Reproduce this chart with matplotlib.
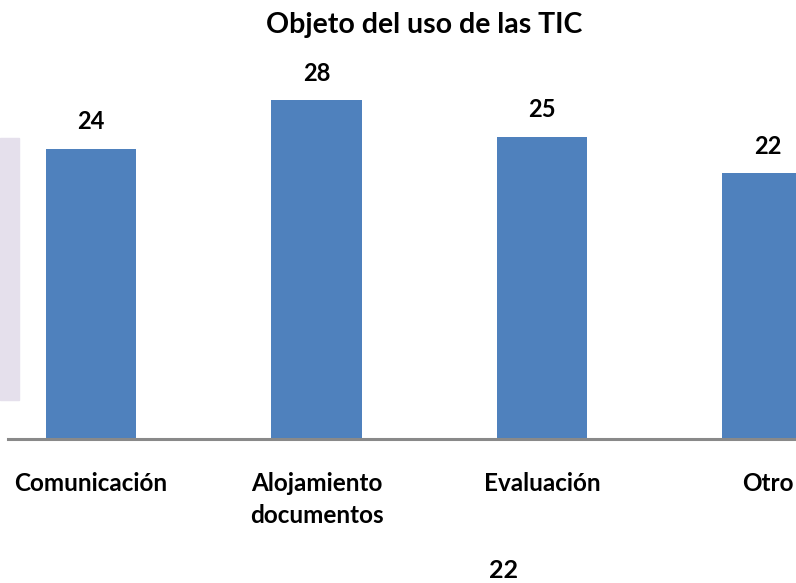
import matplotlib.pyplot as plt
from matplotlib.patches import Rectangle

# datos
categorias = ['Comunicación', 'Alojamiento\ndocumentos', 'Evaluación', 'Otro']
valores = [24, 28, 25, 22]
titulo = 'Objeto del uso de las TIC'
total_extra = '22'

plt.rcParams['font.family'] = ['Lato', 'DejaVu Sans']

fig = plt.figure(figsize=(7.96, 5.83), dpi=100)
ax = fig.add_axes([8 / 796, 1 - 439 / 583, 1 - 8 / 796, (439 - 76) / 583])

pos = list(range(len(valores)))
ax.bar(pos, valores, width=0.4, color='#4F81BD', zorder=2)

for x, v in zip(pos, valores):
    ax.annotate(str(v), (x, v), xytext=(0, 11), textcoords='offset points',
                ha='center', va='bottom', fontsize=17, fontweight='bold')

ax.set_xlim(-0.368, 3.126)
ax.set_ylim(0, 30)
ax.set_yticks([])
ax.set_xticks(pos)
ax.set_xticklabels(categorias, fontsize=17.5, fontweight='bold', linespacing=1.45)
ax.tick_params(axis='x', length=0, pad=24)
for t in ax.get_xticklabels():
    t.set_va('top')

for s in ['top', 'right', 'left']:
    ax.spines[s].set_visible(False)
ax.spines['bottom'].set_color('#898989')
ax.spines['bottom'].set_linewidth(2.2)
ax.spines['bottom'].set_zorder(3)

# recuadro lila a la izquierda
fig.patches.append(Rectangle((0, 1 - 400 / 583), 19 / 796, 262 / 583,
                             transform=fig.transFigure, color='#E5E0EC', zorder=0))

fig.text(424 / 796, 1 - 25 / 583, titulo, ha='center', va='center',
         fontsize=20.5, fontweight='bold')
fig.text(504 / 796, 1 - 570 / 583, total_extra, ha='center', va='center',
         fontsize=18, fontweight='bold')

fig.savefig('out.png', dpi=100)
